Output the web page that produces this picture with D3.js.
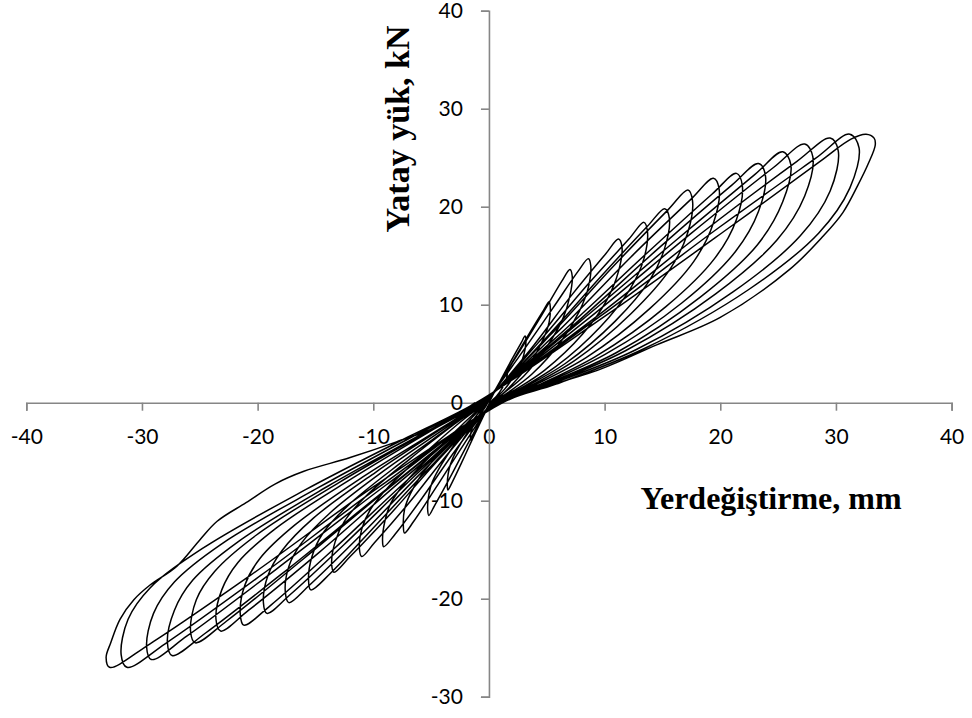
<!DOCTYPE html>
<html>
<head>
<meta charset="utf-8">
<script src="https://cdn.jsdelivr.net/npm/d3@7"></script>
<style>
  html, body { margin: 0; padding: 0; background: #fff; }
  svg { display: block; }
</style>
</head>
<body>
<svg id="chart" width="972" height="718"></svg>
<script>
// Tick values of both axes
const xTicks = [-40, -30, -20, -10, 0, 10, 20, 30, 40];
const yTicks = [-30, -20, -10, 0, 10, 20, 30, 40];

// Load-displacement record, one array per loading cycle: [displacement mm, lateral load kN].
// Each cycle: push to the positive peak, unload through zero load, push to the negative peak, unload.
const cycle01 = [[0,0],[0.48,1.09],[0.99,2.21],[1.41,3.09],[1.56,3.4],[1.6,3.23],[1.56,2.72],[1.42,2.14],[1.12,1.43],[0.67,0.68],[0.29,0.24],
  [0.1,0],[-0.48,-1.22],[-0.99,-2.47],[-1.41,-3.46],[-1.58,-3.8],[-1.6,-3.61],[-1.57,-3.12],[-1.47,-2.66],[-1.25,-2.09],[-0.8,-1.25],[-0.35,-0.49],[-0.1,0]];
const cycle02 = [[0.96,2.18],[1.98,4.42],[2.82,6.19],[3.12,6.8],[3.2,6.46],[3.12,5.44],[2.85,4.28],[2.24,2.86],[1.34,1.36],[0.58,0.48],
  [0.15,0],[-1.08,-2.85],[-2.23,-5.79],[-3.17,-8.1],[-3.55,-8.9],[-3.6,-8.46],[-3.53,-7.3],[-3.31,-6.23],[-2.81,-4.9],[-1.8,-2.94],[-0.79,-1.16],[-0.15,0]];
const cycle03 = [[1.6,3.3],[3.3,6.7],[4.7,9.4],[5.2,10.3],[5.3,9.8],[5.2,8.2],[4.7,6.5],[3.7,4.3],[2.2,2.1],[1.0,0.7],
  [0.2,0],[-1.6,-3.7],[-3.3,-7.5],[-4.7,-10.5],[-5.2,-11.5],[-5.3,-10.9],[-5.2,-9.4],[-4.9,-8.1],[-4.1,-6.3],[-2.7,-3.8],[-1.2,-1.5],[-0.2,0]];
const cycle04 = [[2.2,4.4],[4.5,8.8],[6.3,12.4],[7.0,13.6],[7.2,12.9],[7.0,10.9],[6.4,8.6],[5.0,5.7],[3.0,2.7],[1.3,1.0],
  [0.3,0],[-2.2,-4.3],[-4.6,-8.7],[-6.5,-12.1],[-7.3,-13.3],[-7.4,-12.6],[-7.3,-10.9],[-6.8,-9.3],[-5.8,-7.3],[-3.7,-4.4],[-1.6,-1.7],[-0.3,0]];
const cycle05 = [[2.6,4.7],[5.5,9.6],[7.7,13.4],[8.6,14.7],[8.8,14.0],[8.6,11.8],[7.8,9.3],[6.2,6.2],[3.7,2.9],[1.6,1.0],
  [0.35,0],[-2.8,-4.7],[-5.7,-9.6],[-8.1,-13.4],[-9.1,-14.7],[-9.2,-14.0],[-9.0,-12.1],[-8.5,-10.3],[-7.2,-8.1],[-4.6,-4.9],[-2.0,-1.9],[-0.35,0]];
const cycle06 = [[3.5,5.3],[7.1,10.9],[10.1,15.2],[11.2,16.7],[11.5,15.9],[11.2,13.4],[10.2,10.5],[8.1,7.0],[4.8,3.3],[2.1,1.2],
  [0.4,0],[-3.4,-5.0],[-6.9,-10.2],[-9.9,-14.3],[-11.0,-15.7],[-11.2,-14.9],[-11.0,-12.9],[-10.3,-11.0],[-8.7,-8.6],[-5.6,-5.2],[-2.5,-2.0],[-0.4,0]];
const cycle07 = [[4.1,5.9],[8.5,12.0],[12.1,16.7],[13.4,18.4],[13.7,17.5],[13.4,14.7],[12.2,11.6],[9.6,7.7],[5.8,3.7],[2.5,1.3],
  [0.5,0],[-4.1,-5.5],[-8.4,-11.2],[-12.0,-15.7],[-13.4,-17.3],[-13.6,-16.4],[-13.3,-14.2],[-12.5,-12.1],[-10.6,-9.5],[-6.8,-5.7],[-3.0,-2.2],[-0.5,0]];
const cycle08 = [[4.7,6.3],[9.7,12.9],[13.7,18.0],[15.2,19.8],[15.6,18.8],[15.2,15.8],[13.9,12.5],[10.9,8.3],[6.6,4.0],[2.8,1.4],
  [0.55,0],[-4.7,-6.1],[-9.7,-12.4],[-13.7,-17.4],[-15.4,-19.1],[-15.6,-18.1],[-15.3,-15.7],[-14.4,-13.4],[-12.2,-10.5],[-7.8,-6.3],[-3.4,-2.5],[-0.55,0]];
const cycle09 = [[5.3,6.9],[10.9,14.1],[15.5,19.7],[17.2,21.7],[17.6,20.6],[17.2,17.4],[15.7,13.7],[12.3,9.1],[7.4,4.3],[3.2,1.5],
  [0.6,0],[-5.3,-6.5],[-10.9,-13.3],[-15.5,-18.6],[-17.3,-20.4],[-17.6,-19.4],[-17.3,-16.7],[-16.2,-14.3],[-13.7,-11.2],[-8.8,-6.7],[-3.9,-2.7],[-0.6,0]];
const cycle10 = [[6.0,7.3],[12.3,14.9],[17.5,20.8],[19.4,22.9],[19.9,21.8],[19.4,18.3],[17.7,14.4],[13.9,9.6],[8.4,4.6],[3.6,1.6],
  [0.7,0],[-5.9,-6.9],[-12.1,-14.0],[-17.2,-19.6],[-19.2,-21.5],[-19.5,-20.4],[-19.1,-17.6],[-17.9,-15.1],[-15.2,-11.8],[-9.8,-7.1],[-4.3,-2.8],[-0.7,0]];
const cycle11 = [[6.6,7.5],[13.6,15.2],[19.3,21.3],[21.4,23.4],[21.9,22.2],[21.4,18.7],[19.5,14.7],[15.3,9.8],[9.2,4.7],[3.9,1.6],
  [0.75,0],[-6.5,-7.3],[-13.3,-14.8],[-18.9,-20.7],[-21.2,-22.7],[-21.5,-21.6],[-21.1,-18.6],[-19.8,-15.9],[-16.8,-12.5],[-10.8,-7.5],[-4.7,-3.0],[-0.75,0]];
const cycle12 = [[7.2,7.8],[14.8,15.9],[21.0,22.2],[23.3,24.4],[23.9,23.2],[23.3,19.5],[21.3,15.4],[16.7,10.2],[10.0,4.9],[4.3,1.7],
  [0.8,0],[-7.1,-7.5],[-14.6,-15.2],[-20.8,-21.2],[-23.2,-23.3],[-23.6,-22.1],[-23.1,-19.1],[-21.7,-16.3],[-18.4,-12.8],[-11.8,-7.7],[-5.2,-3.0],[-0.8,0]];
const cycle13 = [[7.8,8.2],[16.2,16.6],[23.0,23.3],[25.4,25.6],[26.1,24.3],[25.4,20.5],[23.2,16.1],[18.3,10.8],[11.0,5.1],[4.7,1.8],
  [0.9,0],[-7.7,-7.8],[-16.0,-15.9],[-22.7,-22.3],[-25.4,-24.5],[-25.8,-23.3],[-25.3,-20.1],[-23.7,-17.2],[-20.1,-13.5],[-12.9,-8.1],[-5.7,-3.2],[-0.9,0]];
const cycle14 = [[8.4,8.4],[17.4,17.2],[24.6,24.0],[27.3,26.4],[28.0,25.1],[27.3,21.1],[24.9,16.6],[19.6,11.1],[11.8,5.3],[5.0,1.8],
  [0.95,0],[-8.3,-8.3],[-17.2,-16.8],[-24.5,-23.5],[-27.4,-25.8],[-27.8,-24.5],[-27.2,-21.2],[-25.6,-18.1],[-21.7,-14.2],[-13.9,-8.5],[-6.1,-3.4],[-0.95,0]];
const cycle15 = [[9.1,8.6],[18.7,17.6],[26.6,24.6],[29.5,27.0],[30.2,25.7],[29.5,21.6],[26.9,17.0],[21.1,11.3],[12.7,5.4],[5.4,1.9],
  [1.0,0],[-8.9,-8.4],[-18.4,-17.0],[-26.1,-23.8],[-29.2,-26.2],[-29.6,-24.9],[-29.0,-21.5],[-27.2,-18.3],[-23.1,-14.4],[-14.8,-8.7],[-6.5,-3.4],[-1.0,0]];
const cycle16 = [[9.6,8.8],[19.8,17.8],[28.2,24.9],[31.2,27.4],[32.0,26.0],[31.2,21.9],[28.5,17.3],[22.4,11.5],[13.4,5.5],[5.8,1.9],
  [1.1,0],[-9.5,-8.6],[-19.7,-17.6],[-28.0,-24.6],[-31.3,-27.0],[-31.8,-25.7],[-31.2,-22.1],[-29.3,-18.9],[-24.8,-14.9],[-15.9,-8.9],[-7.0,-3.5],[-1.1,0]];
const cycle17 = [[10.0,8.8],[20.7,17.8],[28.6,24.6],[31.3,26.9],[32.6,27.4],[33.3,27.0],[33.4,26.3],[32.8,24.4],[31.9,22.2],[30.6,19.4],[28.9,17.0],[26.0,13.6],[20.0,8.7],[14.5,5.9],[9.6,3.4],[3.5,1.1],
  [1.2,0],[-10.0,-8.6],[-20.6,-17.6],[-29.3,-24.6],[-32.8,-27.0],[-33.1,-26.0],[-32.7,-24.5],[-31.9,-22.1],[-30.7,-20.1],[-29.3,-18.6],[-27.0,-16.7],[-25.0,-14.0],[-23.5,-12.1],[-21.0,-10.2],[-18.5,-8.3],[-16.0,-7.0],[-12.0,-5.6],[-8.0,-4.0],[-4.2,-2.3],
  [-1.2,0]];

const cycles = [cycle01, cycle02, cycle03, cycle04, cycle05, cycle06, cycle07, cycle08, cycle09,
                cycle10, cycle11, cycle12, cycle13, cycle14, cycle15, cycle16, cycle17];
const record = cycles.flat();

const svg = d3.select("#chart");

const x = d3.scaleLinear().domain([-40, 40]).range([26.3, 951.6]);
const y = d3.scaleLinear().domain([-30, 40]).range([696.7, 10.7]);

const axisColor = "#868686";
const tickFont = "Lato, 'Open Sans', sans-serif";

// Axes crossing at the origin
const gx = svg.append("g")
  .attr("transform", `translate(0,${y(0)})`)
  .call(d3.axisBottom(x).tickValues(xTicks).tickFormat(d => String(d))
    .tickSize(8).tickSizeOuter(8).tickPadding(18));
const gy = svg.append("g")
  .attr("transform", `translate(${x(0)},0)`)
  .call(d3.axisLeft(y).tickValues(yTicks).tickFormat(d => String(d))
    .tickSize(8).tickSizeOuter(8).tickPadding(18));

[gx, gy].forEach(g => {
  g.attr("font-family", tickFont).attr("font-size", 21);
  g.selectAll(".domain, .tick line").attr("stroke", axisColor).attr("stroke-width", 1.6);
  g.selectAll(".tick text").attr("fill", "#000");
});

// Hysteresis loops
const line = d3.line()
  .x(d => x(d[0]))
  .y(d => y(d[1]))
  .curve(d3.curveCatmullRom.alpha(0.5));

svg.append("path")
  .datum(record)
  .attr("fill", "none")
  .attr("stroke", "#000")
  .attr("stroke-width", 1.5)
  .attr("stroke-linejoin", "round")
  .attr("d", line);

// Axis titles
svg.append("text")
  .attr("transform", "translate(409,129) rotate(-90)")
  .attr("text-anchor", "middle")
  .attr("font-family", "'Liberation Serif', 'Times New Roman', serif")
  .attr("font-weight", "bold")
  .attr("font-size", 34)
  .attr("fill", "#000")
  .text("Yatay yük, kN");

svg.append("text")
  .attr("x", 771)
  .attr("y", 509)
  .attr("text-anchor", "middle")
  .attr("font-family", "'Liberation Serif', 'Times New Roman', serif")
  .attr("font-weight", "bold")
  .attr("font-size", 32)
  .attr("fill", "#000")
  .text("Yerdeğiştirme, mm");
</script>
</body>
</html>
